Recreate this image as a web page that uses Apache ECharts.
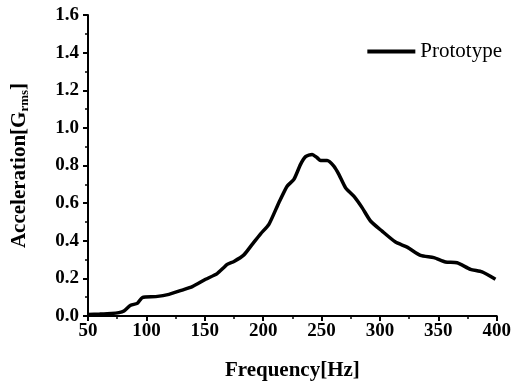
<!DOCTYPE html>
<html>
<head>
<meta charset="utf-8">
<script src="https://cdn.jsdelivr.net/npm/echarts@6/dist/echarts.min.js"></script>
<style>html,body{margin:0;padding:0;background:#fff}#c{width:514px;height:386px}</style>
</head>
<body>
<div id="c"></div>
<script>
var seriesName = 'Prototype';
var freq = [50, 60, 70, 76.5, 80.8, 86.5, 92.2, 96.5, 108, 119.3, 130.7, 139.3, 150.7, 160.6, 169.2, 175, 183.5, 190.6, 197.8, 204.9, 213.4, 220.5, 226.3, 232, 236.3, 241.9, 246.2, 249.1, 254.8, 260.5, 264.8, 270.5, 277.6, 284.7, 291.9, 301.8, 313.3, 323.3, 334.7, 346.1, 356.1, 366, 377.5, 387.4, 398.9];
var accel = [0.008, 0.01, 0.013, 0.018, 0.027, 0.057, 0.067, 0.098, 0.103, 0.115, 0.138, 0.156, 0.195, 0.225, 0.274, 0.29, 0.325, 0.381, 0.437, 0.487, 0.602, 0.69, 0.726, 0.806, 0.847, 0.859, 0.841, 0.827, 0.827, 0.797, 0.753, 0.682, 0.637, 0.576, 0.505, 0.451, 0.393, 0.366, 0.322, 0.31, 0.287, 0.283, 0.248, 0.234, 0.195];
var xTicks = [50, 100, 150, 200, 250, 300, 350, 400];
var yTicks = [0.0, 0.2, 0.4, 0.6, 0.8, 1.0, 1.2, 1.4, 1.6];

var data = freq.map(function (f, i) { return [f, accel[i]]; });
var font = '"Liberation Serif", "Times New Roman", serif';
var chart = echarts.init(document.getElementById('c'), null, {renderer: 'canvas'});
chart.setOption({
  animation: false,
  backgroundColor: '#fff',
  grid: {left: 88, right: 16, top: 15, bottom: 69, containLabel: false},
  legend: {
    show: true,
    right: 7, top: 36,
    itemWidth: 48, itemHeight: 14, itemGap: 6,
    icon: 'path://M0,0 L48,0 L48,4 L0,4 Z',
    textStyle: {fontFamily: font, fontSize: 21, color: '#000'},
    data: [seriesName]
  },
  xAxis: {
    type: 'value', min: xTicks[0], max: xTicks[xTicks.length - 1], interval: 50,
    name: 'Frequency[Hz]', nameLocation: 'middle', nameGap: 44,
    nameTextStyle: {fontFamily: font, fontSize: 21, fontWeight: 'bold', color: '#000'},
    axisLine: {show: true, onZero: false, lineStyle: {color: '#000', width: 2}},
    axisTick: {show: true, inside: false, length: 5, lineStyle: {color: '#000', width: 2}},
    minorTick: {show: true, splitNumber: 2, length: 3, lineStyle: {color: '#000', width: 1.5}},
    axisLabel: {margin: 6, fontFamily: font, fontSize: 19, fontWeight: 'bold', color: '#000',
      formatter: function (v) { return String(v); }},
    splitLine: {show: false}
  },
  yAxis: {
    type: 'value', min: 0, max: 1.6, interval: 0.2,
    name: '{n|Acceleration[G}{s|rms}{n|]}', nameLocation: 'middle', nameGap: 57, nameRotate: 90,
    nameTextStyle: {fontFamily: font, fontSize: 21, fontWeight: 'bold', color: '#000',
      rich: {
        n: {fontFamily: font, fontSize: 21, fontWeight: 'bold', color: '#000'},
        s: {fontFamily: font, fontSize: 13, fontWeight: 'bold', color: '#000', verticalAlign: 'bottom', padding: [10, 0, 0, 0]}
      }},
    axisLine: {show: true, lineStyle: {color: '#000', width: 2}},
    axisTick: {show: true, inside: false, length: 5, lineStyle: {color: '#000', width: 2}},
    minorTick: {show: true, splitNumber: 2, length: 3, lineStyle: {color: '#000', width: 1.5}},
    axisLabel: {margin: 9, fontFamily: font, fontSize: 19, fontWeight: 'bold', color: '#000',
      formatter: function (v) { return v.toFixed(1); }},
    splitLine: {show: false}
  },
  series: [{
    name: seriesName,
    type: 'line',
    data: data,
    showSymbol: false,
    smooth: 0.2,
    lineStyle: {color: '#000', width: 3.5},
    itemStyle: {color: '#000'}
  }]
});
</script>
</body>
</html>
